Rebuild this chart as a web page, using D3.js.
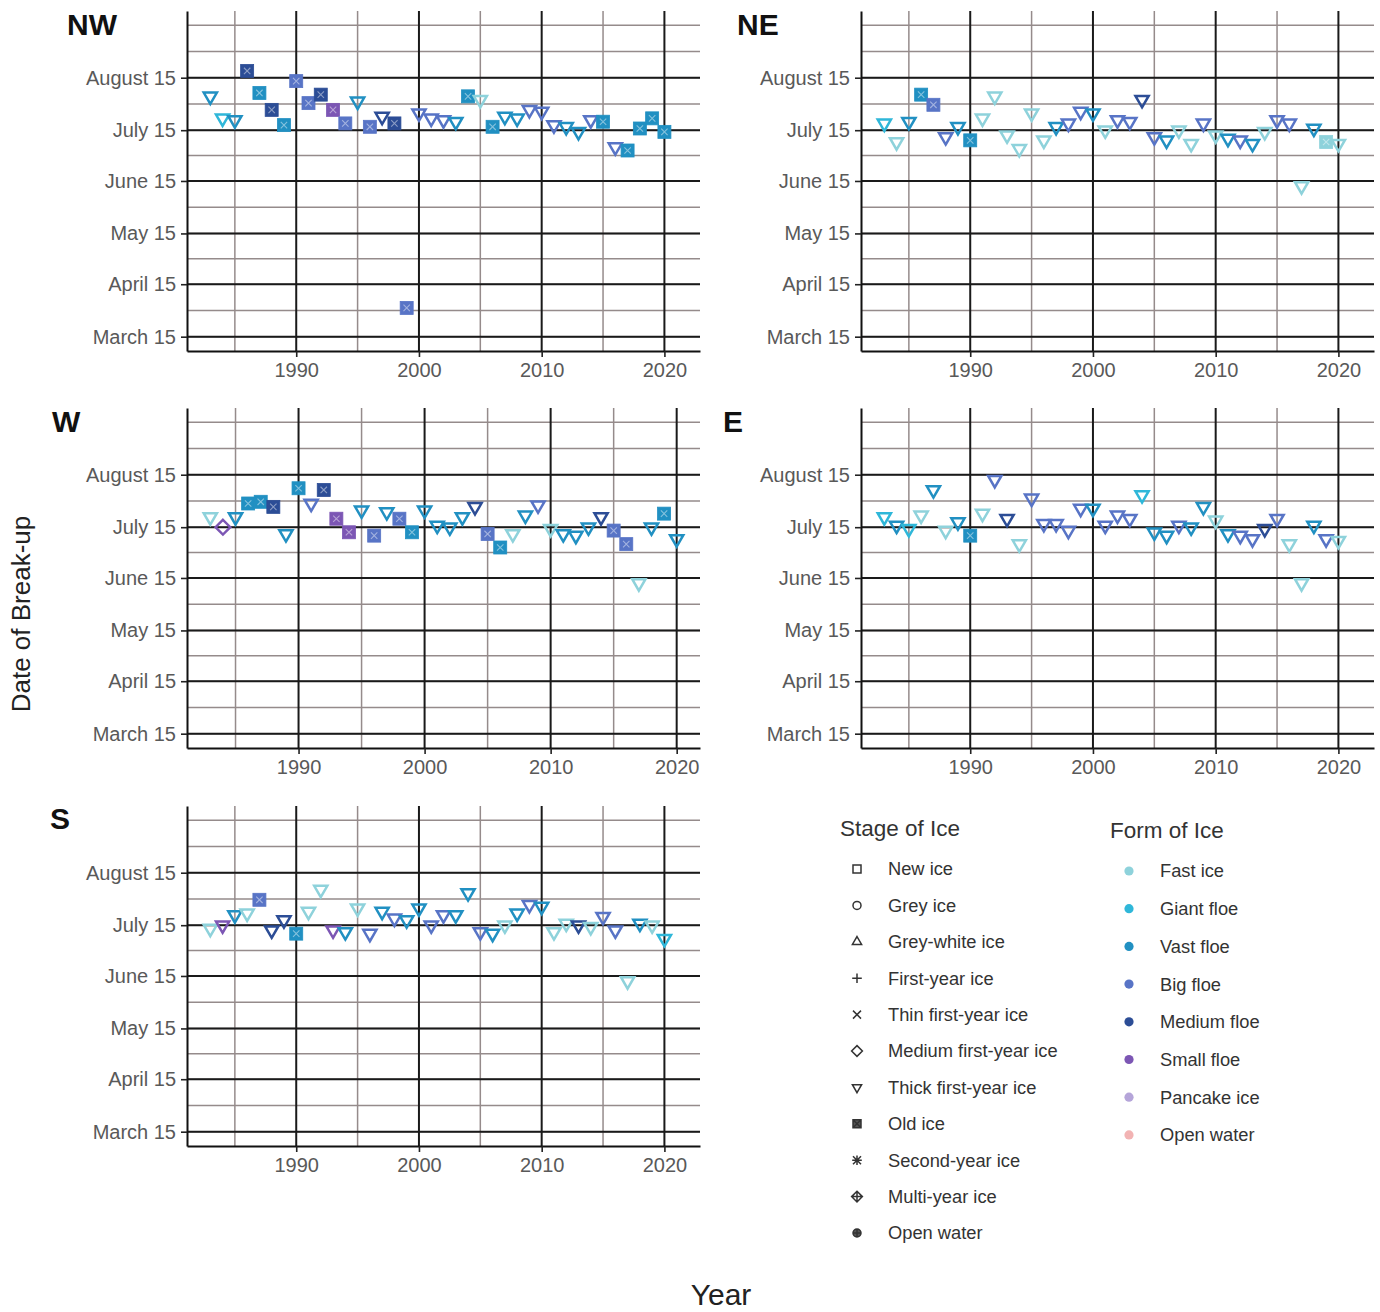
<!DOCTYPE html>
<html>
<head>
<meta charset="utf-8">
<script src="https://cdn.jsdelivr.net/npm/d3@7"></script>
<style>
  body { margin: 0; background: #fff; }
  svg text { font-family: "Liberation Sans", Arial, sans-serif; }
</style>
</head>
<body>
<svg id="chart" width="1380" height="1312"></svg>
<script>
// ---------------------------------------------
// data: break-up date per year and region
// stage codes: T thick first-year, O old ice, M medium first-year
// form codes : F fast, G giant, V vast, B big, Md medium, S small
// ---------------------------------------------
const years = [1983,1984,1985,1986,1987,1988,1989,1990,1991,1992,1993,1994,1995,1996,1997,1998,1999,2000,
  2001,2002,2003,2004,2005,2006,2007,2008,2009,2010,2011,2012,2013,2014,2015,2016,2017,2018,2019,2020];

const nwDate = ["08-04","07-22","07-21","08-19","08-06","07-27","07-18","08-13","07-31","08-05","07-27","07-19","08-01",
  "07-17","07-23","07-19","04-01","07-25","07-22","07-21","07-20","08-04","08-02","07-17","07-23","07-22","07-27","07-26",
  "07-18","07-17","07-14","07-21","07-20","07-05","07-03","07-16","07-22","07-14"];
const nwStage = ["T","T","T","O","O","O","O","O","O","O","O","O","T","O","T","O","O","T","T","T","T","O","T","O","T",
  "T","T","T","T","T","T","T","O","T","O","O","O","O"];
const nwForm = ["V","G","V","Md","V","Md","V","B","B","Md","S","B","V","B","Md","Md","B","B","B","B","V","V","F","V",
  "V","V","B","B","B","V","V","B","V","B","V","V","V","V"];

const neDate = ["07-19","07-08","07-20","08-05","07-30","07-11","07-17","07-09","07-22","08-04","07-12","07-04","07-25",
  "07-09","07-17","07-19","07-26","07-25","07-15","07-21","07-20","08-02","07-11","07-09","07-15","07-07","07-19","07-12",
  "07-10","07-09","07-07","07-14","07-21","07-19","06-12","07-16","07-08","07-07"];
const neStage = ["T","T","T","O","O","T","T","O","T","T","T","T","T","T","T","T","T","T","T","T","T","T","T","T","T",
  "T","T","T","T","T","T","T","T","T","T","T","O","T"];
const neForm = ["G","F","V","V","B","B","V","V","F","F","F","F","F","F","V","B","B","V","F","B","B","Md","B","V","F",
  "F","B","F","V","B","V","F","B","B","F","V","F","F"];

const wDate = ["07-21","07-15","07-21","07-29","07-30","07-27","07-11","08-07","07-29","08-06","07-20","07-12","07-25",
  "07-10","07-24","07-20","07-12","07-25","07-16","07-15","07-21","07-27","07-11","07-03","07-11","07-22","07-28","07-14",
  "07-11","07-10","07-15","07-21","07-13","07-05","06-12","07-15","07-23","07-08"];
const wStage = ["T","M","T","O","O","O","T","O","T","O","O","O","T","O","T","O","O","T","T","T","T","T","O","O","T",
  "T","T","T","T","T","T","T","O","O","T","T","O","T"];
const wForm = ["F","S","V","V","V","Md","V","V","B","Md","S","S","V","B","V","B","V","V","V","V","V","Md","B","V","F",
  "V","B","F","V","V","V","Md","B","B","F","V","V","V"];

const eDate = ["07-21","07-16","07-14","07-22","08-06","07-13","07-18","07-10","07-23","08-12","07-20","07-05","08-01",
  "07-17","07-17","07-13","07-26","07-26","07-16","07-22","07-20","08-03","07-12","07-10","07-16","07-15","07-27","07-19",
  "07-11","07-10","07-08","07-14","07-20","07-05","06-12","07-16","07-08","07-07"];
const eStage = ["T","T","T","T","T","T","T","O","T","T","T","T","T","T","T","T","T","T","T","T","T","T","T","T","T",
  "T","T","T","T","T","T","T","T","T","T","T","T","T"];
const eForm = ["G","V","G","F","V","F","V","V","F","B","Md","F","B","B","B","B","B","V","B","B","B","G","V","V","B",
  "V","V","F","V","B","B","Md","B","F","F","V","B","F"];

const sDate = ["07-13","07-15","07-21","07-22","07-30","07-12","07-18","07-10","07-23","08-05","07-12","07-11","07-25",
  "07-10","07-23","07-19","07-18","07-25","07-15","07-21","07-21","08-03","07-11","07-10","07-15","07-22","07-27","07-26",
  "07-11","07-16","07-15","07-14","07-20","07-12","06-12","07-16","07-15","07-07"];
const sStage = ["T","T","T","T","O","T","T","O","T","T","T","T","T","T","T","T","T","T","T","T","T","T","T","T","T",
  "T","T","T","T","T","T","T","T","T","T","T","T","T"];
const sForm = ["F","S","V","F","B","Md","Md","V","F","F","S","V","F","B","V","B","V","V","B","B","V","V","B","V","F",
  "V","B","V","F","F","Md","F","B","B","F","V","F","G"];

const panelNames = ["NW","NE","W","E","S"];
const recordEnd  = [2021, 2021, 2020, 2021, 2021];   // last year of record per region

const stageNames = ["New ice","Grey ice","Grey-white ice","First-year ice","Thin first-year ice",
  "Medium first-year ice","Thick first-year ice","Old ice","Second-year ice","Multi-year ice","Open water"];
const formNames  = ["Fast ice","Giant floe","Vast floe","Big floe","Medium floe","Small floe","Pancake ice","Open water"];
const formColors = ["#8ed2db","#2fb7d9","#2190c2","#5874c6","#2c4d96","#7c56b4","#b5a5d9","#f2b3b3"];

const yearTicks = [1990, 2000, 2010, 2020];
const yearMinor = [1980, 1985, 1995, 2005, 2015, 2025];

// ---------------------------------------------
// layout
// ---------------------------------------------
const panelW = 513, panelH = 340;
const panelPos = {
  NW: {l: 187, t: 11,  tagX: 67, tagY: 35},
  NE: {l: 861, t: 11,  tagX: 737, tagY: 35},
  W:  {l: 187, t: 408, tagX: 52, tagY: 432},
  E:  {l: 861, t: 408, tagX: 723, tagY: 432},
  S:  {l: 187, t: 806, tagX: 50, tagY: 829}
};
const panelData = {
  NW: [nwDate, nwStage, nwForm], NE: [neDate, neStage, neForm], W: [wDate, wStage, wForm],
  E: [eDate, eStage, eForm], S: [sDate, sStage, sForm]
};
const stageCode = {T: "Thick first-year ice", O: "Old ice", M: "Medium first-year ice"};
const formCode = {F: "Fast ice", G: "Giant floe", V: "Vast floe", B: "Big floe", Md: "Medium floe", S: "Small floe"};

const colorScale = d3.scaleOrdinal().domain(formNames).range(formColors);
const parseDay = d3.utcParse("%Y-%m-%d");
const toDate = s => parseDay("1900-" + s);

// shape paths (ggplot pch 0..10 look-alikes)
function shapePath(name, r) {
  const sq = `M${-r},${-r}h${2*r}v${2*r}h${-2*r}Z`;
  const ci = `M${r},0A${r},${r} 0 1,1 ${-r},0A${r},${r} 0 1,1 ${r},0Z`;
  const pl = `M${-r*1.2},0H${r*1.2}M0,${-r*1.2}V${r*1.2}`;
  const cr = `M${-r},${-r}L${r},${r}M${-r},${r}L${r},${-r}`;
  const dm = `M0,${-r*1.35}L${r*1.35},0L0,${r*1.35}L${-r*1.35},0Z`;
  const h = r * 1.15;
  switch (name) {
    case "New ice": return sq;
    case "Grey ice": return ci;
    case "Grey-white ice": return `M0,${-h*1.15}L${h},${h*0.58}L${-h},${h*0.58}Z`;
    case "First-year ice": return pl;
    case "Thin first-year ice": return cr;
    case "Medium first-year ice": return dm;
    case "Thick first-year ice": return `M0,${h*1.15}L${h},${-h*0.58}L${-h},${-h*0.58}Z`;
    case "Old ice": return sq + cr;
    case "Second-year ice": return pl + cr;
    case "Multi-year ice": return dm + `M${-r*1.35},0H${r*1.35}M0,${-r*1.35}V${r*1.35}`;
    case "Open water": return ci + `M${-r},0H${r}M0,${-r}V${r}`;
  }
}

const svg = d3.select("#chart");

// ---------------------------------------------
// panels
// ---------------------------------------------
panelNames.forEach((name, pi) => {
  const p = panelPos[name];
  const [dates, stages, forms] = panelData[name];
  const y0 = years[0], y1 = recordEnd[pi];
  const pad = (y1 - y0) * 0.05;

  const x = d3.scaleLinear().domain([y0 - pad, y1 + pad]).range([p.l, p.l + panelW]);
  const y = d3.scaleUtc()
    .domain([new Date(Date.UTC(1900, 2, 6, 13)), new Date(Date.UTC(1900, 8, 23, 10))])
    .range([p.t + panelH, p.t]);

  // date breaks: 15th of each month, minor halfway between
  const ext = d3.range(1, 9).map(m => new Date(Date.UTC(1900, m, 15)));
  const majorY = ext.slice(1, 7);
  const minorY = ext.slice(1).concat(d3.pairs(ext).map(([a, b]) => new Date((+a + +b) / 2)))
    .filter(d => d >= y.domain()[0] && d <= y.domain()[1]);
  const minorX = yearMinor.filter(d => d >= x.domain()[0] && d <= x.domain()[1]);

  const g = svg.append("g");

  g.selectAll(".minY").data(minorY).join("line")
    .attr("x1", p.l).attr("x2", p.l + panelW)
    .attr("y1", d => y(d)).attr("y2", d => y(d))
    .attr("stroke", "#958b8b").attr("stroke-width", 1.5);
  g.selectAll(".minX").data(minorX).join("line")
    .attr("x1", d => x(d)).attr("x2", d => x(d))
    .attr("y1", p.t).attr("y2", p.t + panelH)
    .attr("stroke", "#958b8b").attr("stroke-width", 1.5);
  g.selectAll(".majY").data(majorY).join("line")
    .attr("x1", p.l).attr("x2", p.l + panelW)
    .attr("y1", d => y(d)).attr("y2", d => y(d))
    .attr("stroke", "#1a1a1a").attr("stroke-width", 2);
  g.selectAll(".majX").data(yearTicks).join("line")
    .attr("x1", d => x(d)).attr("x2", d => x(d))
    .attr("y1", p.t).attr("y2", p.t + panelH)
    .attr("stroke", "#1a1a1a").attr("stroke-width", 2);

  // axes
  const ay = g.append("g").attr("transform", `translate(${p.l},0)`)
    .call(d3.axisLeft(y).tickValues(majorY).tickFormat(d3.utcFormat("%B %-d"))
      .tickSize(6).tickSizeOuter(0).tickPadding(5));
  const ax = g.append("g").attr("transform", `translate(0,${p.t + panelH})`)
    .call(d3.axisBottom(x).tickValues(yearTicks).tickFormat(d3.format("d"))
      .tickSize(6).tickSizeOuter(0).tickPadding(6));
  [ay, ax].forEach(a => {
    a.select(".domain").attr("stroke", "#111").attr("stroke-width", 2);
    a.selectAll(".tick line").attr("stroke", "#222").attr("stroke-width", 1.6);
    a.selectAll(".tick text").attr("fill", "#595959").style("font-size", "20px")
      .style("font-family", "'Liberation Sans', Arial, sans-serif");
  });

  // points
  const pts = years.map((yr, i) => ({
    year: yr, date: toDate(dates[i]), stage: stageCode[stages[i]], form: formCode[forms[i]]
  }));
  const mg = g.selectAll(".pt").data(pts).join("g")
    .attr("transform", d => `translate(${x(d.year)},${y(d.date)})`);
  mg.each(function(d) {
    const s = d3.select(this), c = colorScale(d.form);
    if (d.stage === "Old ice") {
      s.append("rect").attr("x", -6.5).attr("y", -6.5).attr("width", 13).attr("height", 13)
        .attr("fill", c).attr("stroke", c).attr("stroke-width", 0.8);
      s.append("path").attr("d", "M-3.2,-3.2L3.2,3.2M-3.2,3.2L3.2,-3.2")
        .attr("stroke", "#fff").attr("stroke-opacity", 0.45).attr("stroke-width", 1.1);
    } else if (d.stage === "Medium first-year ice") {
      s.append("path").attr("d", "M0,-7.4L7.4,0L0,7.4L-7.4,0Z")
        .attr("fill", "none").attr("stroke", c).attr("stroke-width", 2.4);
    } else {
      s.append("path").attr("d", "M0,7.6L6.6,-3.8L-6.6,-3.8Z")
        .attr("fill", "none").attr("stroke", c).attr("stroke-width", 2.5)
        .attr("stroke-linejoin", "miter");
    }
  });

  // region tag
  svg.append("text").attr("x", p.tagX).attr("y", p.tagY)
    .attr("font-size", 30).attr("font-weight", "bold").attr("fill", "#111").text(name);
});

// ---------------------------------------------
// axis titles
// ---------------------------------------------
svg.append("text").attr("transform", "translate(30,614) rotate(-90)")
  .attr("text-anchor", "middle").attr("font-size", 26).attr("fill", "#222").text("Date of Break-up");
svg.append("text").attr("x", 721).attr("y", 1305)
  .attr("text-anchor", "middle").attr("font-size", 30).attr("fill", "#222").text("Year");

// ---------------------------------------------
// legends
// ---------------------------------------------
const lg1 = svg.append("g");
lg1.append("text").attr("x", 840).attr("y", 836).attr("font-size", 22.5).attr("fill", "#333").text("Stage of Ice");
const st = lg1.selectAll(".st").data(stageNames).join("g")
  .attr("transform", (d, i) => `translate(857,${869 + i * 36.4})`);
st.append("path").attr("d", d => shapePath(d, 4))
  .attr("fill", d => (["Old ice", "Open water"].includes(d) ? "#555" : "none"))
  .attr("stroke", "#333").attr("stroke-width", 1.5);
st.append("text").attr("x", 31).attr("dy", "0.35em").attr("font-size", 18.3).attr("fill", "#333").text(d => d);

const lg2 = svg.append("g");
lg2.append("text").attr("x", 1110).attr("y", 838).attr("font-size", 22.5).attr("fill", "#333").text("Form of Ice");
const fm = lg2.selectAll(".fm").data(formNames).join("g")
  .attr("transform", (d, i) => `translate(1129,${871 + i * 37.7})`);
fm.append("circle").attr("r", 4.6).attr("fill", d => colorScale(d));
fm.append("text").attr("x", 31).attr("dy", "0.35em").attr("font-size", 18.3).attr("fill", "#333").text(d => d);
</script>
</body>
</html>
